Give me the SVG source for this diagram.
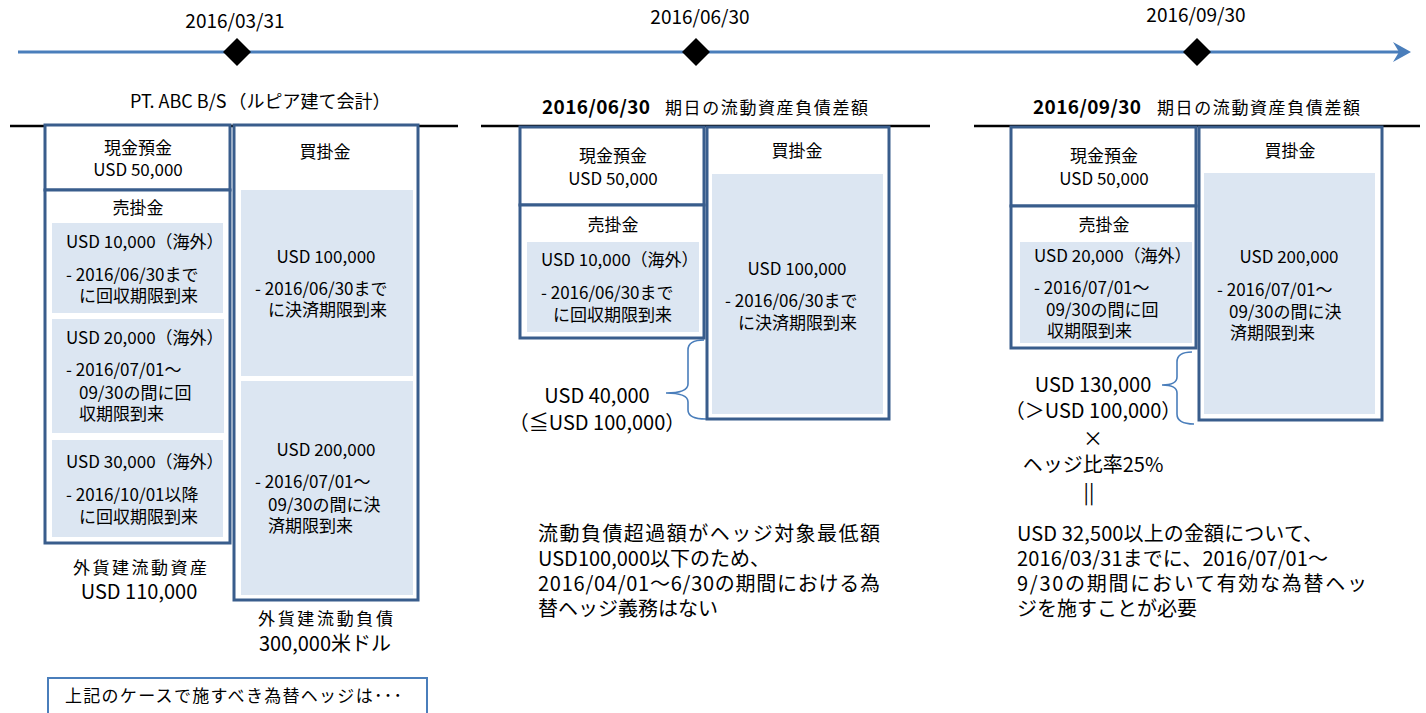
<svg xmlns="http://www.w3.org/2000/svg" width="1426" height="713" viewBox="0 0 1426 713">
<style>
text{font-family:"Noto Sans CJK JP","Noto Sans",sans-serif;fill:#000;}
.b{font-size:17px;}
.c{text-anchor:middle;}
.date{font-size:19px;text-anchor:middle;}
.box{fill:#fff;stroke:#395d8c;stroke-width:3;}
.inner{fill:#dce6f2;stroke:none;}
.tline{stroke:#000;stroke-width:2.5;}
.brace{fill:none;stroke:#4a7ebb;stroke-width:1.6;}
.big{font-size:20px;}
.para{font-size:20px;}
.dia{fill:#000;}
</style>
<defs>
<marker id="arr" markerUnits="userSpaceOnUse" markerWidth="20" markerHeight="22" viewBox="0 0 20 22" refX="12" refY="11" orient="auto">
<path d="M0,1 L18,11 L0,21 L6,11 Z" fill="#4a7ebb"/>
</marker>
</defs>

<g id="connectors">
<line x1="18" y1="52" x2="1405" y2="52" stroke="#4a7ebb" stroke-width="3" marker-end="url(#arr)"/>
<path class="brace" d="M704,340 Q688,340 688,350 L688,384 Q688,393 666,393 Q688,393 688,402 L688,410 Q688,419 706,419"/>
<path class="brace" d="M1192,352 Q1177,352 1177,362 L1177,377 Q1177,385 1162,385 Q1177,385 1177,393 L1177,414 Q1177,424 1194,424"/>
</g>

<g id="timeline-markers">
<polygon class="dia" points="237,38 251,52 237,66 223,52"/>
<polygon class="dia" points="696,38 710,52 696,66 682,52"/>
<polygon class="dia" points="1197,38 1211,52 1197,66 1183,52"/>
<text class="date" x="235" y="28">2016/03/31</text>
<text class="date" x="700" y="24">2016/06/30</text>
<text class="date" x="1196" y="22">2016/09/30</text>
</g>

<!-- Panel 1 -->
<g id="p1-title">
<text x="130" y="108" font-size="18">PT. ABC B/S<tspan dx="2">（ルピア建て会計）</tspan></text>
<line class="tline" x1="10" y1="126" x2="458" y2="126"/>
</g>
<g id="p1-cash">
<rect class="box" x="45" y="125" width="185" height="65"/>
<text class="b c" x="138" y="154">現金預金</text>
<text class="b c" x="138" y="176">USD 50,000</text>
</g>
<g id="p1-receivables">
<rect class="box" x="45" y="190" width="185" height="353"/>
<text class="b c" x="138" y="214">売掛金</text>
<rect class="inner" x="52" y="223" width="171" height="90"/>
<text class="b" x="66" y="248">USD 10,000（海外）</text>
<text class="b" x="66" y="281">- 2016/06/30まで</text>
<text class="b" x="79" y="302">に回収期限到来</text>
<rect class="inner" x="52" y="319" width="172" height="114"/>
<text class="b" x="66" y="344">USD 20,000（海外）</text>
<text class="b" x="66" y="376">- 2016/07/01～</text>
<text class="b" x="79" y="399">09/30の間に回</text>
<text class="b" x="79" y="420">収期限到来</text>
<rect class="inner" x="52" y="440" width="171" height="97"/>
<text class="b" x="66" y="468">USD 30,000（海外）</text>
<text class="b" x="66" y="501">- 2016/10/01以降</text>
<text class="b" x="79" y="523">に回収期限到来</text>
</g>
<g id="p1-payables">
<rect class="box" x="234" y="125" width="184" height="475"/>
<text class="b c" x="325" y="158">買掛金</text>
<rect class="inner" x="241" y="190" width="172" height="186"/>
<text class="b c" x="326" y="263">USD 100,000</text>
<text class="b" x="255" y="295">- 2016/06/30まで</text>
<text class="b" x="268" y="316">に決済期限到来</text>
<rect class="inner" x="241" y="381" width="172" height="214"/>
<text class="b c" x="326" y="456">USD 200,000</text>
<text class="b" x="255" y="488">- 2016/07/01～</text>
<text class="b" x="268" y="511">09/30の間に決</text>
<text class="b" x="268" y="532">済期限到来</text>
</g>
<g id="p1-asset-total">
<text class="b" x="73" y="574" textLength="134" lengthAdjust="spacing">外貨建流動資産</text>
<text class="big c" x="139" y="599">USD 110,000</text>
</g>
<g id="p1-liab-total">
<text class="b" x="258" y="625" textLength="135" lengthAdjust="spacing">外貨建流動負債</text>
<text class="big c" x="325" y="651">300,000米ドル</text>
</g>
<g id="question-box">
<rect x="48" y="678" width="379" height="40" fill="#fff" stroke="#4a7ebb" stroke-width="2"/>
<text class="b" x="65" y="702" textLength="337" lengthAdjust="spacing">上記のケースで施すべき為替ヘッジは･･･</text>
</g>

<!-- Panel 2 -->
<g id="p2-title">
<text x="542" y="114" font-size="19" font-weight="bold" textLength="108" lengthAdjust="spacing">2016/06/30</text>
<text class="b" x="665" y="114" textLength="203" lengthAdjust="spacing">期日の流動資産負債差額</text>
<line class="tline" x1="481" y1="126" x2="930" y2="126"/>
</g>
<g id="p2-cash">
<rect class="box" x="520" y="127" width="184" height="78"/>
<text class="b c" x="613" y="162">現金預金</text>
<text class="b c" x="613" y="185">USD 50,000</text>
</g>
<g id="p2-receivables">
<rect class="box" x="520" y="205" width="184" height="133"/>
<text class="b c" x="613" y="231">売掛金</text>
<rect class="inner" x="527" y="242" width="172" height="90"/>
<text class="b" x="541" y="266">USD 10,000（海外）</text>
<text class="b" x="541" y="299">- 2016/06/30まで</text>
<text class="b" x="553" y="321">に回収期限到来</text>
</g>
<g id="p2-payables">
<rect class="box" x="707" y="127" width="182" height="292"/>
<text class="b c" x="797" y="157">買掛金</text>
<rect class="inner" x="712" y="174" width="171" height="240"/>
<text class="b c" x="797" y="275">USD 100,000</text>
<text class="b" x="725" y="307">- 2016/06/30まで</text>
<text class="b" x="738" y="329">に決済期限到来</text>
</g>
<g id="p2-diff">
<text class="big c" x="597" y="403">USD 40,000</text>
<text class="big c" x="597" y="430">（≦USD 100,000）</text>
</g>
<g id="p2-note">
<text class="para" x="538" y="541" textLength="342" lengthAdjust="spacing">流動負債超過額がヘッジ対象最低額</text>
<text class="para" x="538" y="566">USD100,000以下のため、</text>
<text class="para" x="538" y="591" textLength="342" lengthAdjust="spacing">2016/04/01～6/30の期間における為</text>
<text class="para" x="538" y="616">替ヘッジ義務はない</text>
</g>

<!-- Panel 3 -->
<g id="p3-title">
<text x="1033" y="114" font-size="19" font-weight="bold" textLength="108" lengthAdjust="spacing">2016/09/30</text>
<text class="b" x="1157" y="114" textLength="203" lengthAdjust="spacing">期日の流動資産負債差額</text>
<line class="tline" x1="974" y1="126" x2="1420" y2="126"/>
</g>
<g id="p3-cash">
<rect class="box" x="1011" y="127" width="185" height="79"/>
<text class="b c" x="1104" y="162">現金預金</text>
<text class="b c" x="1104" y="185">USD 50,000</text>
</g>
<g id="p3-receivables">
<rect class="box" x="1011" y="206" width="185" height="142"/>
<text class="b c" x="1104" y="231">売掛金</text>
<rect class="inner" x="1020" y="242" width="172" height="101"/>
<text class="b" x="1034" y="262">USD 20,000（海外）</text>
<text class="b" x="1034" y="294">- 2016/07/01～</text>
<text class="b" x="1046" y="316">09/30の間に回</text>
<text class="b" x="1047" y="337">収期限到来</text>
</g>
<g id="p3-payables">
<rect class="box" x="1199" y="127" width="183" height="293"/>
<text class="b c" x="1290" y="157">買掛金</text>
<rect class="inner" x="1204" y="173" width="171" height="241"/>
<text class="b c" x="1289" y="263">USD 200,000</text>
<text class="b" x="1217" y="296">- 2016/07/01～</text>
<text class="b" x="1229" y="318">09/30の間に決</text>
<text class="b" x="1230" y="339">済期限到来</text>
</g>
<g id="p3-diff">
<text class="big c" x="1093" y="392">USD 130,000</text>
<text class="big c" x="1093" y="418">（＞USD 100,000）</text>
<text class="big c" x="1093" y="446">×</text>
<text class="big c" x="1093" y="472">ヘッジ比率25%</text>
<text class="big c" x="1089" y="500">||</text>
</g>
<g id="p3-note">
<text class="para" x="1017" y="541" textLength="306" lengthAdjust="spacing">USD 32,500以上の金額について、</text>
<text class="para" x="1017" y="566" textLength="311" lengthAdjust="spacing">2016/03/31までに、2016/07/01～</text>
<text class="para" x="1017" y="591" textLength="350" lengthAdjust="spacing">9/30の期間において有効な為替ヘッ</text>
<text class="para" x="1017" y="616">ジを施すことが必要</text>
</g>
</svg>
